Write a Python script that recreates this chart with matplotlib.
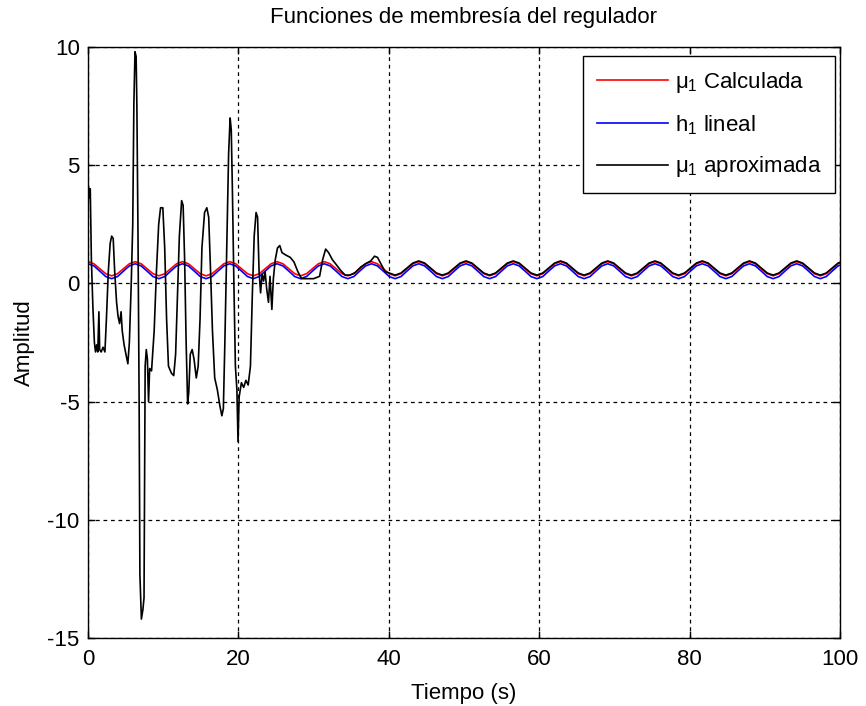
import numpy as np
import matplotlib
matplotlib.use("Agg")
import matplotlib.pyplot as plt

plt.rcParams['font.family'] = ['Liberation Sans', 'DejaVu Sans']
plt.rcParams['mathtext.fontset'] = 'custom'
plt.rcParams['mathtext.rm'] = 'Liberation Sans'
plt.rcParams['mathtext.it'] = 'Liberation Sans'
plt.rcParams['mathtext.bf'] = 'Liberation Sans:bold'
plt.rcParams['axes.unicode_minus'] = False

# ---- data -------------------------------------------------------------
# sampling grid of the periodic membership signals (one sample per pi/4 s)
t_grid = np.arange(129) * np.pi / 4

mu1_calculada = [
    0.92, 0.83, 0.62, 0.41, 0.32, 0.41, 0.62, 0.83,
    0.92, 0.83, 0.62, 0.41, 0.32, 0.41, 0.62, 0.83,
    0.92, 0.83, 0.62, 0.41, 0.32, 0.41, 0.62, 0.83,
    0.92, 0.83, 0.62, 0.41, 0.32, 0.41, 0.62, 0.83,
    0.92, 0.83, 0.62, 0.41, 0.32, 0.41, 0.62, 0.83,
    0.92, 0.83, 0.62, 0.41, 0.32, 0.41, 0.62, 0.83,
    0.92, 0.83, 0.62, 0.41, 0.32, 0.41, 0.62, 0.83,
    0.92, 0.83, 0.62, 0.41, 0.32, 0.41, 0.62, 0.83,
    0.92, 0.83, 0.62, 0.41, 0.32, 0.41, 0.62, 0.83,
    0.92, 0.83, 0.62, 0.41, 0.32, 0.41, 0.62, 0.83,
    0.92, 0.83, 0.62, 0.41, 0.32, 0.41, 0.62, 0.83,
    0.92, 0.83, 0.62, 0.41, 0.32, 0.41, 0.62, 0.83,
    0.92, 0.83, 0.62, 0.41, 0.32, 0.41, 0.62, 0.83,
    0.92, 0.83, 0.62, 0.41, 0.32, 0.41, 0.62, 0.83,
    0.92, 0.83, 0.62, 0.41, 0.32, 0.41, 0.62, 0.83,
    0.92, 0.83, 0.62, 0.41, 0.32, 0.41, 0.62, 0.83,
    0.92,
]

h1_lineal = [
    0.83, 0.74, 0.52, 0.29, 0.20, 0.29, 0.52, 0.74,
    0.83, 0.74, 0.52, 0.29, 0.20, 0.29, 0.52, 0.74,
    0.83, 0.74, 0.52, 0.29, 0.20, 0.29, 0.52, 0.74,
    0.83, 0.74, 0.52, 0.29, 0.20, 0.29, 0.52, 0.74,
    0.83, 0.74, 0.52, 0.29, 0.20, 0.29, 0.52, 0.74,
    0.83, 0.74, 0.52, 0.29, 0.20, 0.29, 0.52, 0.74,
    0.83, 0.74, 0.52, 0.29, 0.20, 0.29, 0.52, 0.74,
    0.83, 0.74, 0.52, 0.29, 0.20, 0.29, 0.52, 0.74,
    0.83, 0.74, 0.52, 0.29, 0.20, 0.29, 0.52, 0.74,
    0.83, 0.74, 0.52, 0.29, 0.20, 0.29, 0.52, 0.74,
    0.83, 0.74, 0.52, 0.29, 0.20, 0.29, 0.52, 0.74,
    0.83, 0.74, 0.52, 0.29, 0.20, 0.29, 0.52, 0.74,
    0.83, 0.74, 0.52, 0.29, 0.20, 0.29, 0.52, 0.74,
    0.83, 0.74, 0.52, 0.29, 0.20, 0.29, 0.52, 0.74,
    0.83, 0.74, 0.52, 0.29, 0.20, 0.29, 0.52, 0.74,
    0.83, 0.74, 0.52, 0.29, 0.20, 0.29, 0.52, 0.74,
    0.83,
]

# approximated membership: transient part (0 - 40 s)
t_aprox_transitorio = [
    0.00, 0.05, 0.15, 0.30, 0.45, 0.65, 0.85, 1.00, 1.15, 1.30,
    1.45, 1.55, 1.75, 2.00, 2.25, 2.45, 2.70, 2.95, 3.15, 3.35,
    3.55, 3.80, 4.00, 4.20, 4.40, 4.55, 4.80, 5.05, 5.30, 5.50,
    5.75, 5.95, 6.10, 6.25, 6.40, 6.50, 6.65, 6.80, 6.90, 7.10,
    7.30, 7.45, 7.60, 7.75, 7.90, 8.05, 8.20, 8.45, 8.80, 9.10,
    9.40, 9.65, 9.95, 10.20, 10.45, 10.70, 11.10, 11.40, 11.65, 11.90,
    12.15, 12.45, 12.65, 12.85, 13.05, 13.25, 13.40, 13.60, 13.85, 14.10,
    14.40, 14.65, 14.90, 15.15, 15.50, 15.80, 16.05, 16.30, 16.55, 16.85,
    17.20, 17.55, 17.80, 18.00, 18.20, 18.45, 18.70, 18.90, 19.05, 19.20,
    19.40, 19.60, 19.80, 19.95, 20.10, 20.40, 20.70, 21.00, 21.30, 21.60,
    21.85, 22.10, 22.35, 22.55, 22.75, 22.95, 23.15, 23.35, 23.55, 23.75,
    24.00, 24.20, 24.45, 24.65, 24.90, 25.20, 25.50, 25.80, 26.30, 26.90,
    27.40, 27.90, 28.40, 29.00, 30.00, 30.80, 31.20, 31.60, 32.00, 32.50,
    33.00, 33.60, 34.20, 34.80, 35.50, 36.30, 37.00, 37.60, 38.10, 38.50,
    39.00, 39.50,
]
mu1_aprox_transitorio = [
    2.1, 4.1, 3.6, 4.0, 1.0, -1.0, -2.5, -2.9, -2.6, -2.9,
    -1.2, -2.8, -2.9, -2.7, -2.9, -1.5, 0.5, 1.7, 2.0, 1.9,
    0.5, -0.8, -1.4, -1.7, -1.2, -2.0, -2.6, -3.0, -3.4, -2.5,
    0.0, 2.5, 7.6, 9.8, 9.6, 7.5, 2.0, -5.0, -12.3, -14.2,
    -13.8, -13.3, -3.5, -2.8, -3.2, -5.0, -3.6, -3.7, -2.0, 0.5,
    2.5, 3.2, 3.2, 1.5, -1.5, -3.5, -3.8, -3.9, -3.0, -0.5,
    2.0, 3.5, 3.3, 1.0, -2.5, -5.1, -4.6, -3.0, -2.8, -3.2,
    -4.0, -3.5, -1.5, 1.5, 3.0, 3.2, 2.8, 0.5, -2.0, -4.0,
    -4.5, -5.2, -5.6, -5.3, -2.5, 1.5, 5.5, 7.0, 6.5, 4.0,
    0.0, -3.5, -4.5, -6.7, -4.8, -4.2, -4.4, -4.1, -4.3, -3.5,
    -0.5, 2.0, 3.0, 2.8, 0.5, -0.4, 0.4, 0.1, 0.5, -0.2,
    -0.8, 0.3, -1.1, 0.2, 1.0, 1.5, 1.6, 1.3, 1.2, 1.1,
    0.9, 0.5, 0.2, 0.2, 0.2, 0.3, 1.0, 1.45, 1.3, 1.0,
    0.8, 0.55, 0.35, 0.35, 0.45, 0.7, 0.85, 0.95, 1.15, 1.1,
    0.8, 0.5,
]

# approximated membership: steady part, on the sampling grid from sample 51 on
inicio_estacionario = 51
mu1_aprox_estacionario = [
    0.44, 0.35, 0.44, 0.65, 0.86,
    0.95, 0.86, 0.65, 0.44, 0.35, 0.44, 0.65, 0.86,
    0.95, 0.86, 0.65, 0.44, 0.35, 0.44, 0.65, 0.86,
    0.95, 0.86, 0.65, 0.44, 0.35, 0.44, 0.65, 0.86,
    0.95, 0.86, 0.65, 0.44, 0.35, 0.44, 0.65, 0.86,
    0.95, 0.86, 0.65, 0.44, 0.35, 0.44, 0.65, 0.86,
    0.95, 0.86, 0.65, 0.44, 0.35, 0.44, 0.65, 0.86,
    0.95, 0.86, 0.65, 0.44, 0.35, 0.44, 0.65, 0.86,
    0.95, 0.86, 0.65, 0.44, 0.35, 0.44, 0.65, 0.86,
    0.95, 0.86, 0.65, 0.44, 0.35, 0.44, 0.65, 0.86,
    0.95,
]

x_ticks = [0, 20, 40, 60, 80, 100]
y_ticks = [-15, -10, -5, 0, 5, 10]

# ---- figure -----------------------------------------------------------
fig = plt.figure(figsize=(8.66, 7.06), dpi=100)
ax = fig.add_axes([88 / 866, 1 - 638 / 706, 752 / 866, 591 / 706])

t_aprox = np.concatenate([t_aprox_transitorio, t_grid[inicio_estacionario:]])
mu1_aprox = np.concatenate([mu1_aprox_transitorio, mu1_aprox_estacionario])

ax.plot(t_grid, mu1_calculada, color='#ff0000', lw=1.2, label=r'$\mu_1$ Calculada')
ax.plot(t_grid, h1_lineal, color='#0000ff', lw=1.2, label=r'h$_1$ lineal')
ax.plot(t_aprox, mu1_aprox, color='black', lw=1.2, label=r'$\mu_1$ aproximada')

ax.set_xlim(0, 100)
ax.set_ylim(-15, 10)
ax.set_xticks(x_ticks)
ax.set_yticks(y_ticks)
ax.tick_params(direction='in', length=5, width=1, top=True, right=True,
               labelsize=16, colors='black')
ax.tick_params(axis='x', pad=8)
ax.tick_params(axis='y', pad=6)
ax.grid(True, color='black', linestyle=(0, (3, 3)), linewidth=0.9)
for s in ax.spines.values():
    s.set_linewidth(1.0)
    s.set_color('black')

ax.set_title('Funciones de membresía del regulador', fontsize=16, pad=17)
ax.set_xlabel('Tiempo (s)', fontsize=16, labelpad=9)
ax.set_ylabel('Amplitud', fontsize=16, labelpad=9)

leg = ax.legend(loc='upper right', bbox_to_anchor=(0.9934, 0.984),
                borderaxespad=0, fontsize=16, frameon=True, fancybox=False,
                edgecolor='black', framealpha=1, handlelength=3.2,
                handletextpad=0.3, labelspacing=0.8, borderpad=0.62)
leg.get_frame().set_linewidth(1.0)

fig.savefig('out.png', dpi=100)
